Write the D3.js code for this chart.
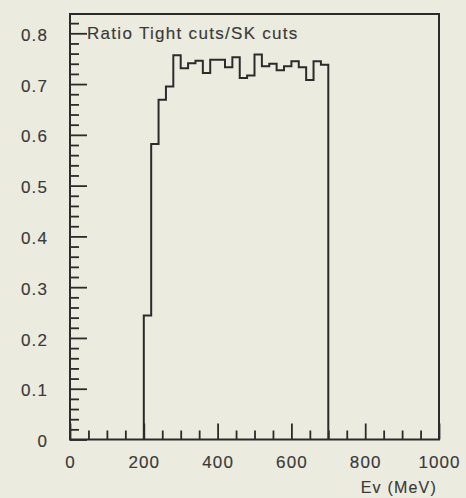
<!DOCTYPE html>
<html>
<head>
<meta charset="utf-8">
<script src="https://cdn.jsdelivr.net/npm/d3@7"></script>
<style>
  body { margin: 0; background: #ecebe0; }
  svg { display: block; }
</style>
</head>
<body>
<div id="plot"></div>
<script>
// histogram data: 20 MeV bins from 200 to 700 MeV
var bin_edges_low = [200, 220, 240, 260, 280, 300, 320, 340, 360, 380, 400, 420, 440,
                     460, 480, 500, 520, 540, 560, 580, 600, 620, 640, 660, 680];
var bin_width = 20;
var ratio_values = [0.244, 0.582, 0.669, 0.695, 0.757, 0.731, 0.741, 0.746, 0.722, 0.748, 0.748, 0.733, 0.753,
                    0.712, 0.717, 0.758, 0.735, 0.740, 0.727, 0.735, 0.745, 0.733, 0.708, 0.745, 0.738];

var x_major_ticks = [0, 200, 400, 600, 800, 1000];
var y_major_ticks = [0, 0.1, 0.2, 0.3, 0.4, 0.5, 0.6, 0.7, 0.8];
var title_text = "Ratio Tight cuts/SK cuts";
var x_title_text = "Ev (MeV)";

const total_width = 466
const total_height = 498
const margin = {left: 70, top: 14, right: 27, bottom: 58.5}

var width = total_width - margin.left - margin.right;
var height = total_height - margin.top - margin.bottom;
var ink = "#2b2b2b";
var text_ink = "#3a3a3a";
var font = "'Liberation Sans', Arial, sans-serif";

var svg = d3.select("#plot").append("svg").attr("width", total_width).attr("height", total_height)
  .append("g").attr("transform", "translate(" + margin.left + "," + margin.top + ")");

var x = d3.scaleLinear().domain([0, 1000]).range([0, width]);
var y = d3.scaleLinear().domain([0, 0.838]).range([height, 0]);

// minor ticks
var x_minor = d3.range(0, 1001, 50).filter(function(d) {return x_major_ticks.indexOf(d) < 0});
var y_minor = d3.range(0, 42).map(function(i) {return +(i * 0.02).toFixed(2)})
  .filter(function(d) {return Math.round(d * 100) % 10 != 0});

svg.append("g").attr("class", "xminor").attr("transform", "translate(0," + height + ")")
  .call(d3.axisBottom(x).tickValues(x_minor).tickSize(-9).tickFormat(""));
svg.append("g").attr("class", "yminor")
  .call(d3.axisLeft(y).tickValues(y_minor).tickSize(-9).tickFormat(""));

var xAxis = d3.axisBottom(x).tickValues(x_major_ticks).tickSize(-16).tickPadding(16).tickFormat(d3.format("d"));
svg.append("g").attr("class", "xaxis").attr("transform", "translate(0," + height + ")").call(xAxis);

var yAxis = d3.axisLeft(y).tickValues(y_major_ticks).tickSize(-17).tickPadding(22)
  .tickFormat(function(d) {return d == 0 ? "0" : d3.format(".1f")(d)});
svg.append("g").attr("class", "yaxis").call(yAxis);

svg.selectAll(".domain").remove();
svg.selectAll(".tick line").attr("stroke", ink).attr("stroke-width", 1.8);
svg.selectAll(".xaxis text, .yaxis text").attr("fill", text_ink).attr("stroke", text_ink).attr("stroke-width", 0.15)
  .style("font-family", font).style("font-size", "17px").style("letter-spacing", "1.1px");
svg.selectAll(".yaxis text").attr("dy", "0.42em");

// frame
svg.append("rect").attr("width", width).attr("height", height)
  .attr("fill", "none").attr("stroke", ink).attr("stroke-width", 2);

// step histogram outline
var points = [[bin_edges_low[0], 0]];
bin_edges_low.forEach(function(lo, i) {
  points.push([lo, ratio_values[i]]);
  points.push([lo + bin_width, ratio_values[i]]);
});
points.push([bin_edges_low[bin_edges_low.length - 1] + bin_width, 0]);

svg.append("path").datum(points)
  .attr("d", d3.line().x(function(d) {return x(d[0])}).y(function(d) {return y(d[1])}))
  .attr("fill", "none").attr("stroke", ink).style("stroke-width", 2);

// texts
svg.append("text").attr("x", 17).attr("y", y(0.8)).attr("dy", "0.36em")
  .attr("fill", text_ink).attr("stroke", text_ink).attr("stroke-width", 0.15)
  .style("font-family", font).style("font-size", "17px").style("letter-spacing", "1.3px")
  .text(title_text);

svg.append("text").attr("x", width - 2).attr("y", height + 48).attr("dy", "0.36em").attr("text-anchor", "end")
  .attr("fill", text_ink).attr("stroke", text_ink).attr("stroke-width", 0.15)
  .style("font-family", font).style("font-size", "16px").style("letter-spacing", "1.2px")
  .text(x_title_text);
</script>
</body>
</html>
